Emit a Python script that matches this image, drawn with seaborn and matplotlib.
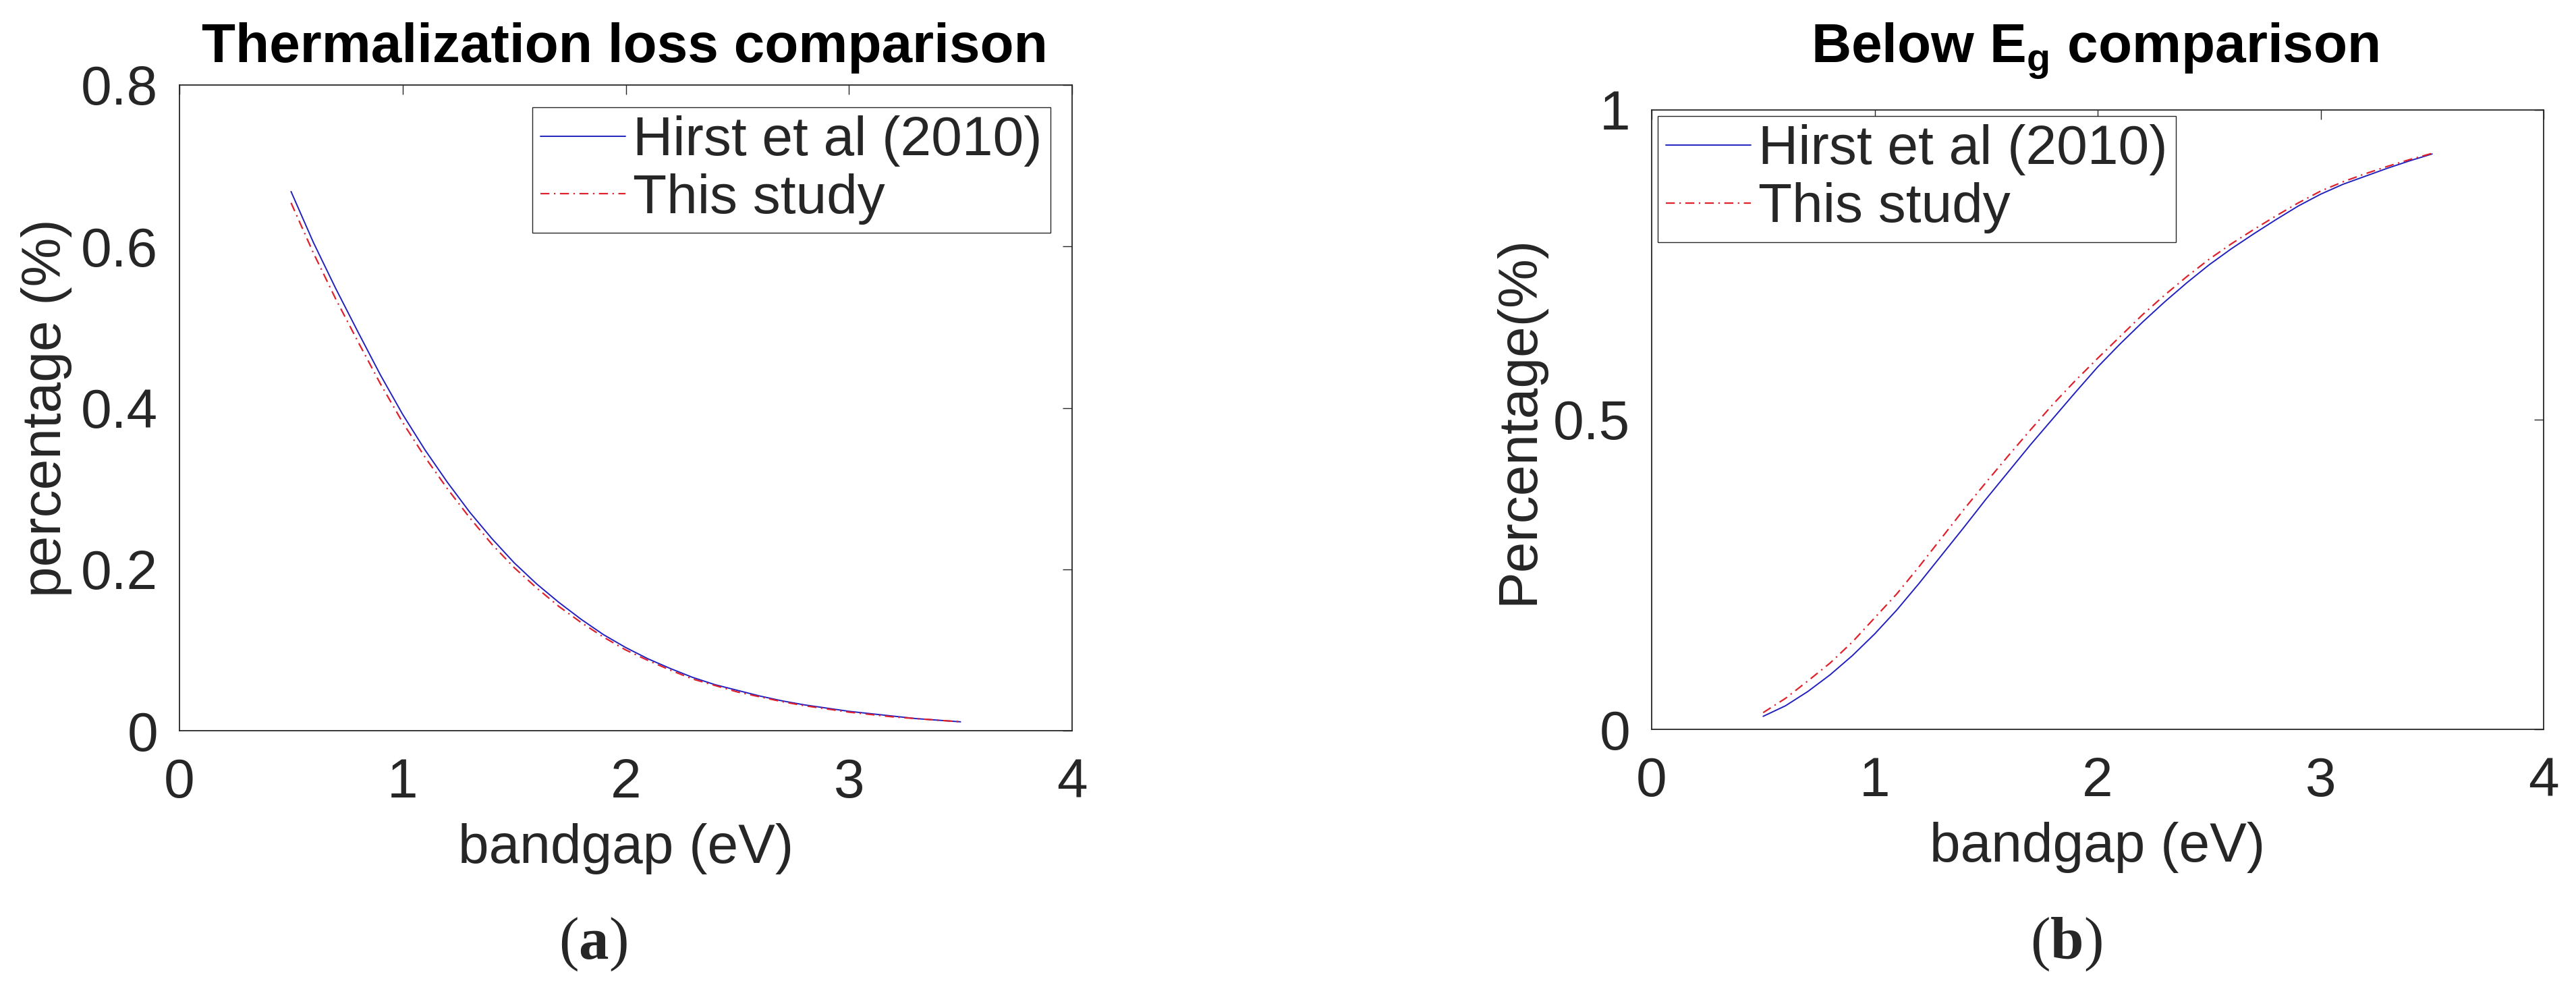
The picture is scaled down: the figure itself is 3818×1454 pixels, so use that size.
import matplotlib
matplotlib.use("Agg")
import matplotlib.pyplot as plt
import seaborn as sns

# Data
bandgap = [0.5, 0.6, 0.7, 0.8, 0.9, 1.0, 1.1, 1.2, 1.3, 1.4, 1.5,
           1.6, 1.7, 1.8, 1.9, 2.0, 2.1, 2.2, 2.3, 2.4, 2.5,
           2.6, 2.7, 2.8, 2.9, 3.0, 3.1, 3.2, 3.3, 3.4, 3.5]

thermal_hirst = [0.668, 0.605, 0.548, 0.494, 0.441, 0.392, 0.348, 0.308, 0.271, 0.238, 0.208,
                 0.182, 0.159, 0.138, 0.119, 0.103, 0.089, 0.077, 0.066, 0.057, 0.050,
                 0.043, 0.037, 0.032, 0.028, 0.024, 0.021, 0.018, 0.015, 0.013, 0.011]
thermal_study = [0.654, 0.592, 0.535, 0.482, 0.430, 0.382, 0.339, 0.300, 0.264, 0.231, 0.202,
                 0.177, 0.154, 0.134, 0.116, 0.100, 0.087, 0.075, 0.064, 0.056, 0.048,
                 0.042, 0.036, 0.031, 0.027, 0.023, 0.020, 0.017, 0.015, 0.013, 0.011]

below_hirst = [0.021, 0.038, 0.061, 0.088, 0.119, 0.154, 0.193, 0.236, 0.281, 0.326, 0.372,
               0.416, 0.460, 0.502, 0.544, 0.585, 0.622, 0.657, 0.690, 0.721, 0.750,
               0.776, 0.800, 0.823, 0.845, 0.864, 0.880, 0.893, 0.906, 0.918, 0.929]
below_study = [0.027, 0.050, 0.078, 0.107, 0.141, 0.180, 0.219, 0.263, 0.309, 0.355, 0.399,
               0.442, 0.484, 0.525, 0.563, 0.599, 0.634, 0.669, 0.701, 0.731, 0.759,
               0.784, 0.807, 0.829, 0.850, 0.869, 0.884, 0.897, 0.909, 0.920, 0.930]

x_ticks = [0, 1, 2, 3, 4]
y_ticks_a = [0, 0.2, 0.4, 0.6, 0.8]
y_labels_a = ["0", "0.2", "0.4", "0.6", "0.8"]
y_ticks_b = [0, 0.5, 1]
y_labels_b = ["0", "0.5", "1"]

sns.set_style("white")
plt.rcParams["font.family"] = ["Liberation Sans", "DejaVu Sans"]
plt.rcParams["mathtext.fontset"] = "custom"
plt.rcParams["mathtext.sf"] = "Liberation Sans:bold"
plt.rcParams["mathtext.bf"] = "Liberation Serif:bold"
plt.rcParams["mathtext.rm"] = "Liberation Serif"

FS = 59
axis_col = "#262626"
blue = "#2020c0"
red = "#e0202a"
dashdot = (0, (6, 3, 1, 3))

fig = plt.figure(figsize=(38.18, 14.54), dpi=100)
ax1 = fig.add_axes([266 / 3818, 1 - 1083 / 1454, 1323 / 3818, 957 / 1454])
ax2 = fig.add_axes([2448 / 3818, 1 - 1081 / 1454, 1322 / 3818, 918 / 1454])

sns.lineplot(x=bandgap, y=thermal_hirst, ax=ax1, color=blue, linewidth=1.4,
             label="Hirst et al (2010)", errorbar=None)
sns.lineplot(x=bandgap, y=thermal_study, ax=ax1, color=red, linewidth=1.6,
             linestyle=dashdot, label="This study", errorbar=None)
sns.lineplot(x=bandgap, y=below_hirst, ax=ax2, color=blue, linewidth=1.4,
             label="Hirst et al (2010)", errorbar=None)
sns.lineplot(x=bandgap, y=below_study, ax=ax2, color=red, linewidth=1.6,
             linestyle=dashdot, label="This study", errorbar=None)

for ax in (ax1, ax2):
    ax.set_xlim(0, 4)
    ax.set_xticks(x_ticks)
    ax.set_xticklabels([str(t) for t in x_ticks])
    ax.tick_params(direction="in", top=True, right=True, length=10, width=1.0,
                   color=axis_col, labelcolor=axis_col, labelsize=FS)
    ax.tick_params(axis="x", pad=29)
    ax.tick_params(axis="y", pad=23)
    for s in ax.spines.values():
        s.set_color(axis_col)
        s.set_linewidth(1.3)
    ax.set_xlabel("bandgap (eV)", fontsize=FS, color=axis_col, labelpad=15)

ax1.set_ylim(0, 0.8)
ax1.set_yticks(y_ticks_a)
ax1.set_yticklabels(y_labels_a)
ax1.set_ylabel("percentage (%)", fontsize=FS, color=axis_col, labelpad=9)

ax2.set_ylim(0, 1)
ax2.set_yticks(y_ticks_b)
ax2.set_yticklabels(y_labels_b)
ax2.set_ylabel("Percentage(%)", fontsize=FS, color=axis_col, labelpad=9)

leg_kw = dict(fontsize=FS, frameon=True, fancybox=False, edgecolor=axis_col,
              framealpha=1, borderaxespad=0, borderpad=0.15, labelspacing=0.12,
              handlelength=1.54, handletextpad=0.13)
l1 = ax1.legend(loc="upper right", bbox_to_anchor=(0.9758, 0.9655), **leg_kw)
l2 = ax2.legend(loc="upper left", bbox_to_anchor=(0.0068, 0.990), **leg_kw)
for lg in (l1, l2):
    lg.get_frame().set_linewidth(1.0)

fig.text(926 / 3818, 1 - 92 / 1454, "Thermalization loss comparison", fontsize=FS,
         fontweight="bold", ha="center", va="baseline", color="black")
fig.text(3105 / 3818, 1 - 92 / 1454, r"Below E$_{\mathsf{g}}$ comparison", fontsize=FS,
         fontweight="bold", ha="center", va="baseline", color="black")

fig.text(879 / 3818, 1 - 1400 / 1454, r"($\mathbf{a}$)", fontsize=64,
         family="Liberation Serif", ha="center", va="center")
fig.text(3062 / 3818, 1 - 1400 / 1454, r"($\mathbf{b}$)", fontsize=64,
         family="Liberation Serif", ha="center", va="center")

fig.savefig("out.png", dpi=100)
